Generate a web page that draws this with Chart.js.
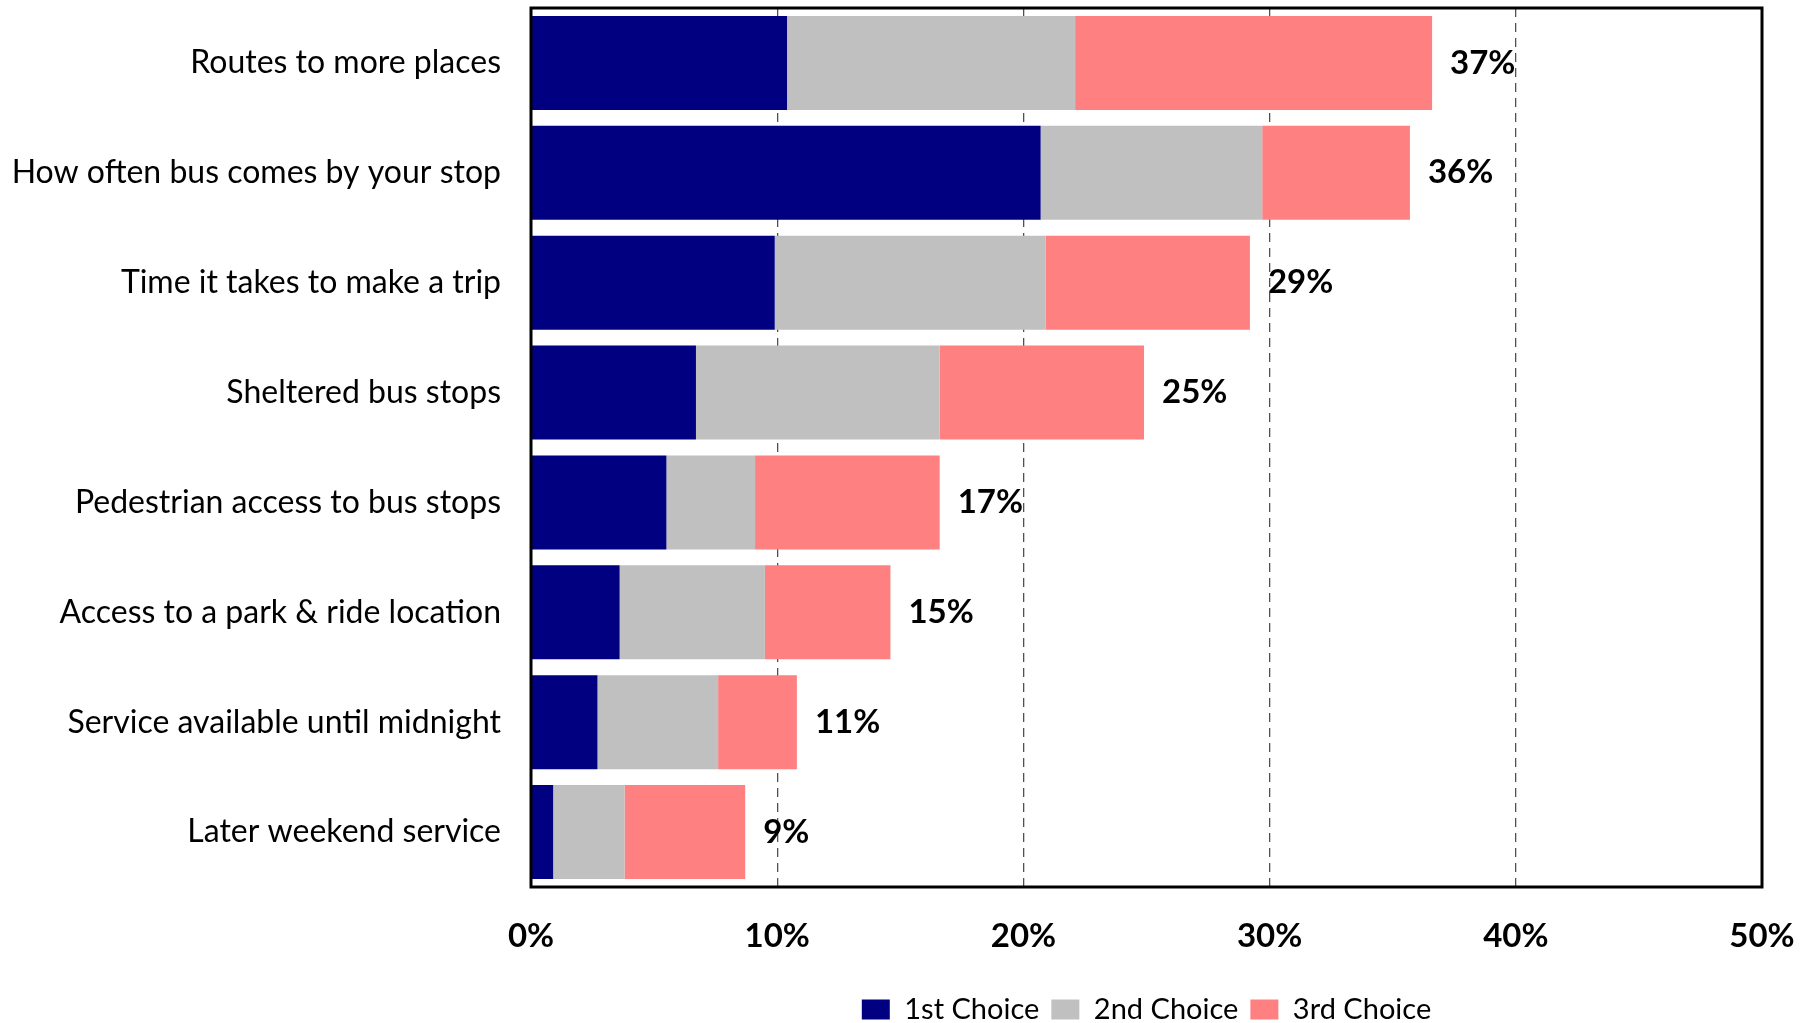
<!DOCTYPE html>
<html>
<head>
<meta charset="utf-8">
<script src="https://cdn.jsdelivr.net/npm/chart.js@4.4.1/dist/chart.umd.min.js"></script>
<style>
  html, body { margin: 0; padding: 0; background: #fff; overflow: hidden; }
  #wrap { width: 1815px; height: 1034px; }
</style>
</head>
<body>
<div id="wrap"><canvas id="myChart"></canvas></div>
<script>
const categories = [
  'Routes to more places',
  'How often bus comes by your stop',
  'Time it takes to make a trip',
  'Sheltered bus stops',
  'Pedestrian access to bus stops',
  'Access to a park & ride location',
  'Service available until midnight',
  'Later weekend service'
];
const seriesNames = ['1st Choice', '2nd Choice', '3rd Choice'];
const firstChoice = [10.4, 20.7, 9.9, 6.7, 5.5, 3.6, 2.7, 0.9];
const secondChoice = [11.7, 9.0, 11.0, 9.9, 3.6, 5.9, 4.9, 2.9];
const thirdChoice = [14.5, 6.0, 8.3, 8.3, 7.5, 5.1, 3.2, 4.9];
const xTickValues = [0, 10, 20, 30, 40, 50];

Chart.defaults.font.family = 'Lato';
Chart.defaults.color = '#000';

// total of the three choices, printed at the end of each stacked bar
const totalLabels = {
  id: 'totalLabels',
  afterDatasetsDraw(chart) {
    const ctx = chart.ctx;
    const meta = chart.getDatasetMeta(chart.data.datasets.length - 1);
    ctx.save();
    ctx.font = 'bold 33px Lato';
    ctx.fillStyle = '#000';
    ctx.textAlign = 'left';
    ctx.textBaseline = 'middle';
    meta.data.forEach((bar, i) => {
      const total = firstChoice[i] + secondChoice[i] + thirdChoice[i];
      ctx.fillText(Math.round(total) + '%', bar.x + 18, bar.y);
    });
    ctx.restore();
  }
};

// black box round the plot area; legend centred under the plot, not the canvas
const plotFrame = {
  id: 'plotFrame',
  beforeDraw(chart) {
    const a = chart.chartArea;
    if (chart.legend) {
      chart.legend.left = a.left;
      chart.legend.right = a.right;
    }
  },
  afterDraw(chart) {
    const {ctx, chartArea: a} = chart;
    ctx.save();
    ctx.strokeStyle = '#000';
    ctx.lineWidth = 3;
    ctx.strokeRect(a.left, a.top, a.right - a.left, a.bottom - a.top);
    ctx.restore();
  }
};

const noEdgePadding = scale => {
  scale.paddingTop = 0;
  scale.paddingBottom = 0;
  scale.paddingLeft = 0;
  scale.paddingRight = 0;
};

const data = {
  labels: categories,
  datasets: [
    { label: seriesNames[0], data: firstChoice, backgroundColor: '#000080' },
    { label: seriesNames[1], data: secondChoice, backgroundColor: '#C0C0C0' },
    { label: seriesNames[2], data: thirdChoice, backgroundColor: '#FF8080' }
  ].map(d => Object.assign(d, { borderWidth: 0, categoryPercentage: 1, barPercentage: 0.855 }))
};

const config = {
  type: 'bar',
  data: data,
  options: {
    indexAxis: 'y',
    responsive: true,
    maintainAspectRatio: false,
    animation: false,
    layout: { padding: { top: 8, right: 53, left: 0, bottom: 0 } },
    plugins: {
      tooltip: { enabled: false },
      legend: {
        position: 'bottom',
        labels: {
          boxWidth: 28,
          boxHeight: 20,
          padding: 12,
          font: { size: 29 },
          color: '#000'
        }
      }
    },
    scales: {
      x: {
        stacked: true,
        min: 0,
        max: 50,
        afterBuildTicks: scale => { scale.ticks = xTickValues.map(v => ({ value: v })); },
        afterFit: scale => { scale.height = 96; noEdgePadding(scale); },
        ticks: {
          padding: 30,
          font: { size: 33, weight: 'bold' },
          color: '#000',
          callback: v => v + '%'
        },
        grid: {
          drawTicks: false,
          lineWidth: 1.3,
          color: c => (c.tick.value === 0 || c.tick.value === 50) ? 'rgba(0,0,0,0)' : '#505050'
        },
        border: { display: false, dash: [9, 6] }
      },
      y: {
        stacked: true,
        afterFit: scale => { scale.width = 531; noEdgePadding(scale); },
        ticks: {
          padding: 30,
          font: { size: 32 },
          color: '#000'
        },
        grid: { display: false, drawTicks: false },
        border: { display: false }
      }
    }
  },
  plugins: [totalLabels, plotFrame]
};

var myChart = new Chart(document.getElementById('myChart'), config);
</script>
</body>
</html>
